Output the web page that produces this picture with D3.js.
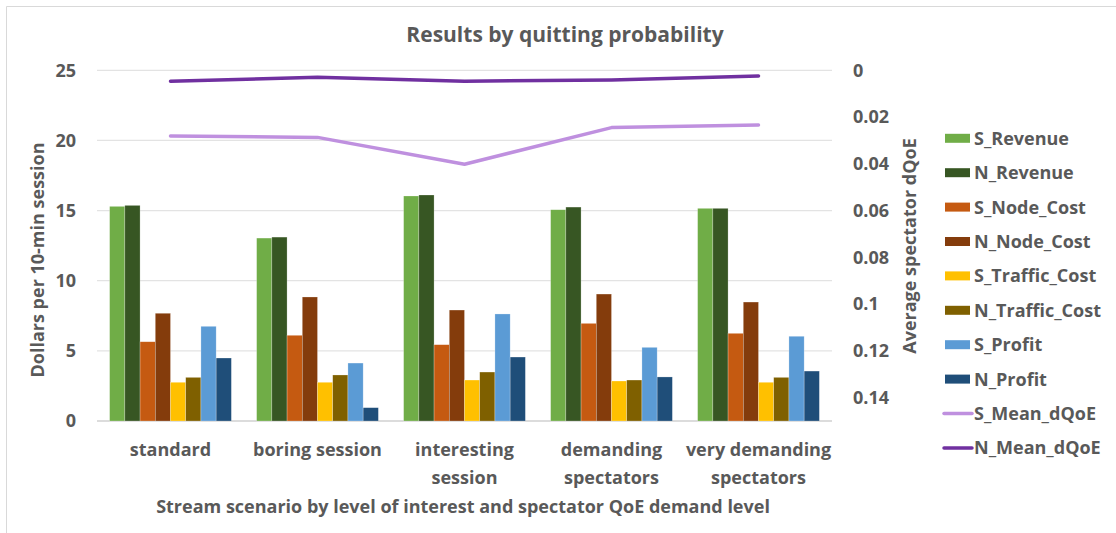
<!DOCTYPE html>
<html><head><meta charset="utf-8">
<script src="https://cdn.jsdelivr.net/npm/d3@7"></script>
<style>body{margin:0;background:#fff;} text{font-family:"Open Sans",Lato,sans-serif;font-weight:bold;fill:#595959;}</style>
</head><body><svg id="c" width="1116" height="533"></svg>
<script>
const categories = [["standard"],["boring session"],["interesting","session"],["demanding","spectators"],["very demanding","spectators"]];
const barSeries = ["S_Revenue","N_Revenue","S_Node_Cost","N_Node_Cost","S_Traffic_Cost","N_Traffic_Cost","S_Profit","N_Profit"];
const S_Revenue = [15.30,13.04,16.04,15.06,15.16];
const N_Revenue = [15.37,13.11,16.11,15.25,15.16];
const S_Node_Cost = [5.65,6.11,5.44,6.96,6.25];
const N_Node_Cost = [7.68,8.84,7.91,9.05,8.48];
const S_Traffic_Cost = [2.76,2.76,2.92,2.85,2.76];
const N_Traffic_Cost = [3.11,3.28,3.49,2.92,3.11];
const S_Profit = [6.75,4.13,7.63,5.25,6.04];
const N_Profit = [4.49,0.95,4.56,3.14,3.56];
const S_Mean_dQoE = [0.0281,0.0287,0.0402,0.0245,0.0234];
const N_Mean_dQoE = [0.0047,0.0030,0.0047,0.0041,0.0024];
const leftTicks = [0,5,10,15,20,25];
const rightTicks = [0,0.02,0.04,0.06,0.08,0.1,0.12,0.14];
const barValues = [S_Revenue,N_Revenue,S_Node_Cost,N_Node_Cost,S_Traffic_Cost,N_Traffic_Cost,S_Profit,N_Profit];
const barColors = ["#70AD47","#375623","#C55A11","#843C0C","#FFC000","#7F6000","#5B9BD5","#1F4E79"];
const lineSeries = ["S_Mean_dQoE","N_Mean_dQoE"];
const lineValues = [S_Mean_dQoE,N_Mean_dQoE];
const lineColors = ["#BF90DF","#7030A0"];

const svg = d3.select("#c");
svg.append("path").attr("d","M6.5,540V6.5H1130").attr("fill","none").attr("stroke","#d9d9d9");

const L=97,R=832,T=70.3,B=421;
const x = d3.scaleBand().domain(d3.range(categories.length)).range([L,R]);
const y = d3.scaleLinear().domain([0,25]).range([B,T]);
const y2 = d3.scaleLinear().domain([0,0.15]).range([T,B]);
const inner = d3.scaleBand().domain(d3.range(barSeries.length)).range([0,x.bandwidth()]).paddingOuter(0.83);

svg.append("g").selectAll("line").data(leftTicks).join("line")
  .attr("x1",L).attr("x2",R).attr("y1",d=>y(d)).attr("y2",d=>y(d))
  .attr("stroke",d=>d===0?"#d0d0d0":"#e3e3e3").attr("stroke-width",1.3);

const ga = svg.append("g").attr("transform",`translate(${L},0)`).call(d3.axisLeft(y).tickValues(leftTicks).tickSize(0).tickPadding(0));
ga.select(".domain").remove();
ga.selectAll("text").attr("x",-21).attr("text-anchor","end").style("font-size","18px").attr("fill","#595959");

const gr = svg.append("g").attr("transform",`translate(${R},0)`).call(d3.axisRight(y2).tickValues(rightTicks).tickSize(0).tickFormat(d=>d3.format("")(+d.toFixed(2))));
gr.select(".domain").remove();
gr.selectAll("text").attr("x",21).attr("text-anchor","start").style("font-size","18px").attr("fill","#595959");

barSeries.forEach((s,si)=>{
  svg.append("g").selectAll("rect").data(barValues[si]).join("rect")
    .attr("x",(d,i)=>x(i)+inner(si)).attr("width",inner.bandwidth())
    .attr("y",d=>y(d)).attr("height",d=>B-y(d))
    .attr("fill",barColors[si]).attr("stroke","#fff").attr("stroke-opacity",0.4).attr("stroke-width",0.6);
});

lineSeries.forEach((s,si)=>{
  svg.append("path").datum(lineValues[si])
    .attr("d",d3.line().x((d,i)=>x(i)+x.bandwidth()/2).y(d=>y2(d)))
    .attr("fill","none").attr("stroke",lineColors[si]).attr("stroke-width",3.5).attr("stroke-linecap","round").attr("stroke-linejoin","round");
});

categories.forEach((c,i)=>{
  const t = svg.append("text").attr("x",x(i)+x.bandwidth()/2).attr("y",456).attr("text-anchor","middle").style("font-size","18px");
  c.forEach((line,j)=>t.append("tspan").attr("x",x(i)+x.bandwidth()/2).attr("dy",j===0?0:28).text(line));
});

svg.append("text").attr("x",565).attr("y",42).attr("text-anchor","middle").style("font-size","21px").text("Results by quitting probability");
svg.append("text").attr("x",463).attr("y",513).attr("text-anchor","middle").style("font-size","18px").text("Stream scenario  by level of interest and  spectator  QoE demand level");
svg.append("text").attr("transform","translate(44,260) rotate(-90)").attr("text-anchor","middle").style("font-size","18px").text("Dollars  per 10-min session");
svg.append("text").attr("transform","translate(916,246) rotate(-90)").attr("text-anchor","middle").style("font-size","18px").text("Average spectator dQoE");

const legendItems = barSeries.map((s,i)=>({name:s,color:barColors[i],type:"bar"})).concat(lineSeries.map((s,i)=>({name:s,color:lineColors[i],type:"line"})));
const lg = svg.append("g");
legendItems.forEach((it,i)=>{
  const cy = 138.3 + i*34.4;
  if(it.type==="bar") lg.append("rect").attr("x",945).attr("y",cy-4.5).attr("width",25).attr("height",9).attr("fill",it.color);
  else lg.append("line").attr("x1",944).attr("x2",972).attr("y1",cy).attr("y2",cy).attr("stroke",it.color).attr("stroke-width",3.5).attr("stroke-linecap","round");
  lg.append("text").attr("x",974).attr("y",cy+6.5).style("font-size","18px").text(it.name);
});
</script></body></html>
